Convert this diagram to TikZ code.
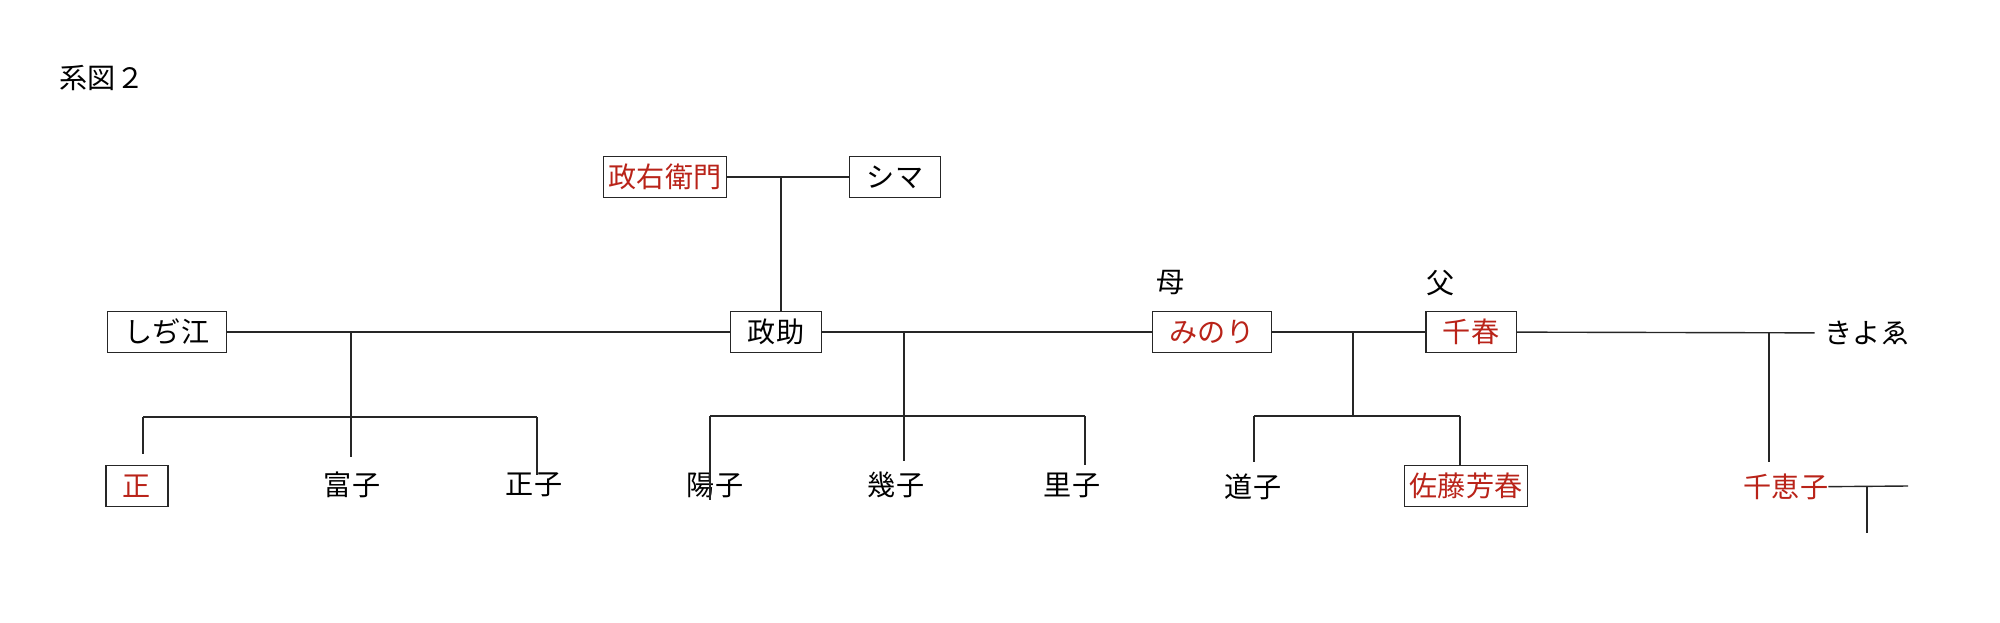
\documentclass[tikz,border=0pt]{standalone}
\usepackage{fontspec}
\newfontfamily\jp{Noto Sans CJK JP}
\usetikzlibrary{positioning}
\definecolor{heirred}{RGB}{185,35,25}
\tikzset{
	person/.style={font=\jp\fontsize{20}{24}\selectfont, inner sep=0pt},
	namebox/.style={person, draw=black!85, line width=0.3mm, minimum height=10.25mm, inner xsep=4.25mm},
	wide/.style={inner xsep=1.25mm},
	heir/.style={text=heirred},
	link/.style={line width=0.35mm, color=black!85}
}

\begin{document}
\begin{tikzpicture}[x=0.25mm,y=-0.25mm]
\useasboundingbox (0,0) rectangle (2000,622);
\node[person]				(title)		at (102,78)		{系図２};
\node[namebox,wide,heir]	(uemon)		at (665,177)	{政右衛門};
\node[namebox]				(shima)		at (895,177)	{シマ};
\node[namebox]				(shidzue)	at (167,332)	{しぢ江};
\node[namebox]				(masasuke)	at (776,332)	{政助};
\node[namebox,heir]			(minori)	at (1212,332)	{みのり};
\node[namebox,heir]			(chiharu)	at (1471,332)	{千春};
\node[person]				(kiyoe)		at (1867,333)	{きよゑ};
\node[person]				(haha)		at (1171,283)	{母};
\node[person]				(chichi)	at (1441,283)	{父};
\node[namebox,heir]			(tadashi)	at (137,486)	{正};
\node[person]				(tomiko)	at (352,485)	{富子};
\node[person]				(masako)	at (534,485)	{正子};
\node[person]				(yoko)		at (715,485)	{陽子};
\node[person]				(ikuko)		at (896,485)	{幾子};
\node[person]				(satoko)	at (1072,485)	{里子};
\node[person]				(michiko)	at (1253,487)	{道子};
\node[namebox,wide,heir]	(yoshiharu)	at (1466,486)	{佐藤芳春};
\node[person,heir]			(chieko)	at (1786,487)	{千恵子};

\coordinate (j1) at (781,177);
\coordinate (j2) at (351,332);
\coordinate (j3) at (904,332);
\coordinate (j4) at (1353,332);
\coordinate (j5) at (1769,333);
\coordinate (j6) at (1867,486);
\coordinate (bl1) at (143,417);
\coordinate (br1) at (537,417);
\coordinate (bl2) at (710,416);
\coordinate (br2) at (1085,416);
\coordinate (bl3) at (1254,416);
\coordinate (br3) at (1460,416);
\coordinate (b3) at (1353,416);
\coordinate (d1) at (351,457);
\coordinate (d2) at (143,454);
\coordinate (d3) at (537,475);
\coordinate (d4) at (904,461);
\coordinate (d5) at (710,500);
\coordinate (d6) at (1085,465);
\coordinate (d7) at (1254,462);
\coordinate (d8) at (1769,462);
\coordinate (d9) at (1867,533);
\coordinate (k1) at (1908,486);

\path[link]
(uemon)		edge								(shima)
(j1)		edge								(j1 |- masasuke.north)
(shidzue)	edge								(masasuke)
(masasuke)	edge								(minori)
(minori)	edge								(chiharu)
(chiharu)	edge[shorten >=2.5mm]				(kiyoe)
(j2)		edge								(d1)
(bl1)		edge								(br1)
			edge								(d2)
(br1)		edge								(d3)
(j3)		edge								(d4)
(bl2)		edge								(br2)
			edge								(d5)
(br2)		edge								(d6)
(j4)		edge								(b3)
(bl3)		edge								(br3)
			edge								(d7)
(br3)		edge								(br3 |- yoshiharu.north)
(j5)		edge								(d8)
(chieko)	edge								(k1)
(j6)		edge								(d9)
;
\end{tikzpicture}
\end{document}
